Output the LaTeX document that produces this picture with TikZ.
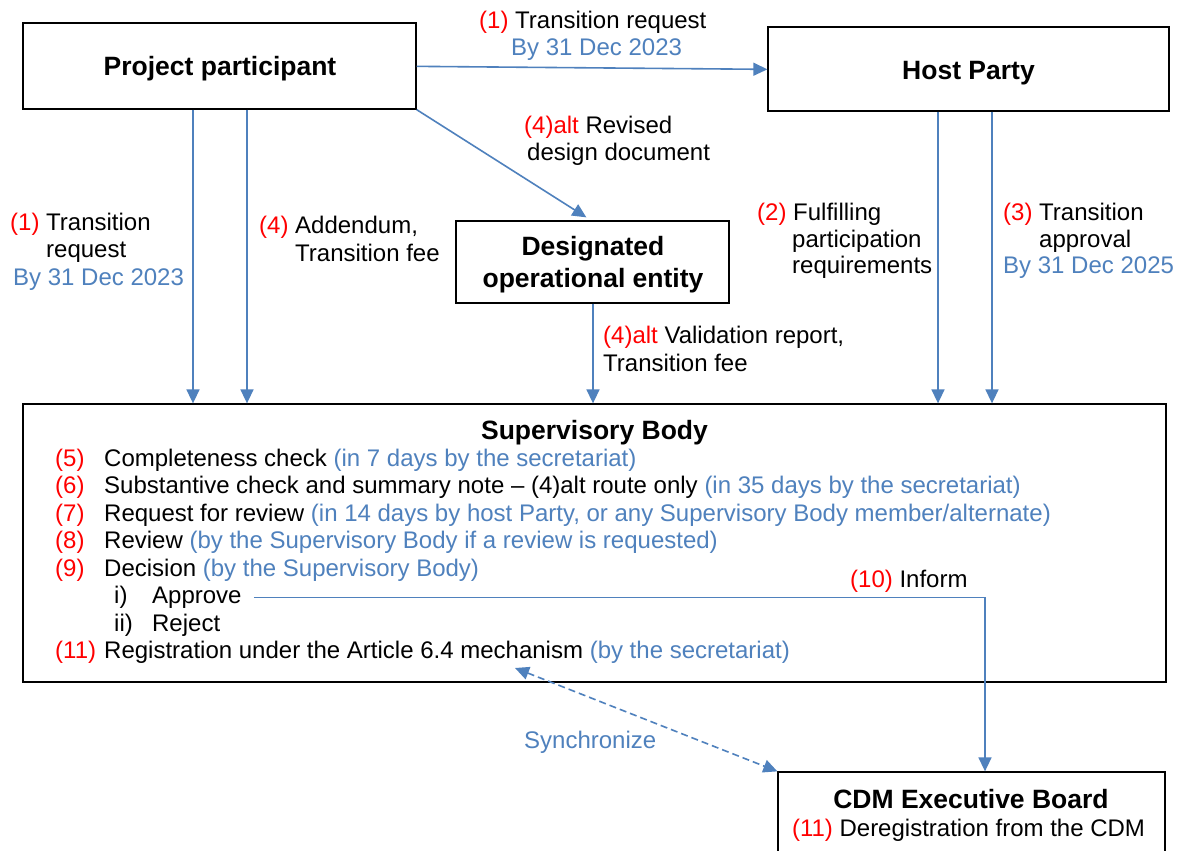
\documentclass[tikz,border=0pt]{standalone}
\usepackage{fontspec}
\setmainfont{Liberation Sans}
\usetikzlibrary{arrows.meta,calc}
\definecolor{myblue}{RGB}{79,129,189}
\definecolor{myred}{RGB}{255,0,0}
\newcommand{\rd}[1]{\textcolor{myred}{#1}}
\newcommand{\bl}[1]{\textcolor{myblue}{#1}}
\begin{document}
\begin{tikzpicture}[x=1pt,y=-1pt,
  box/.style={draw=black, line width=1.3pt, inner sep=0pt},
  arr/.style={draw=myblue, line width=1.6pt, -{Triangle[length=14pt,width=13pt]}},
  dbl/.style={draw=myblue, line width=1.6pt, dash pattern=on 7pt off 4pt, {Triangle[length=14pt,width=13pt]}-{Triangle[length=14pt,width=13pt]}},
  lbl/.style={inner sep=0pt, anchor=base west, font=\fontsize{24}{27.5}\selectfont},
  ttl/.style={inner sep=0pt, anchor=base, font=\fontsize{26.5}{32}\selectfont\bfseries},
]
\fill[white] (0,0) rectangle (1178,851);
\useasboundingbox (0,0) rectangle (1178,851);

% boxes
\node[box, minimum width=393pt, minimum height=86pt] (pp) at (219.5,66) {};
\node[box, minimum width=401pt, minimum height=84pt] (hp) at (968.5,69) {};
\node[box, minimum width=273pt, minimum height=82pt] (doe) at (592.5,262) {};
\node[box, minimum width=1143pt, minimum height=278pt] (sb) at (594.5,543) {};
\node[box, minimum width=387pt, minimum height=90pt] (cdm) at (971.5,817) {};

% titles
\node[ttl] (ppt) at (220,76) {Project participant};
\node[ttl] (hpt) at (968.5,79) {Host Party};
\node[ttl] (doet1) at (593,255) {Designated};
\node[ttl] (doet2) at (593,287) {operational entity};
\node[ttl] (sbt) at (594.5,439) {Supervisory Body};
\node[ttl] (cdmt) at (971,808) {CDM Executive Board};
\node[lbl, anchor=base] (cdm11) at (968.5,836) {\rd{(11)} Deregistration from the CDM};

% Supervisory body list
\node[lbl] (sb5) at (55,466) {\makebox[49pt][l]{\rd{(5)}}Completeness check \bl{(in 7 days by the secretariat)}};
\node[lbl] (sb6) at (55,493.5) {\makebox[49pt][l]{\rd{(6)}}Substantive check and summary note – (4)alt route only \bl{(in 35 days by the secretariat)}};
\node[lbl] (sb7) at (55,521) {\makebox[49pt][l]{\rd{(7)}}Request for review \bl{(in 14 days by host Party, or any Supervisory Body member/alternate)}};
\node[lbl] (sb8) at (55,548.5) {\makebox[49pt][l]{\rd{(8)}}Review \bl{(by the Supervisory Body if a review is requested)}};
\node[lbl] (sb9) at (55,576) {\makebox[49pt][l]{\rd{(9)}}Decision \bl{(by the Supervisory Body)}};
\node[lbl] (approve) at (114,603.5) {\makebox[38pt][l]{i)}Approve};
\node[lbl] (reject) at (114,631) {\makebox[38pt][l]{ii)}Reject};
\node[lbl] (sb11) at (55,658.5) {\makebox[49pt][l]{\rd{(11)}}Registration under the Article 6.4 mechanism \bl{(by the secretariat)}};

% coordinates
\coordinate (xa) at (193,0);
\coordinate (xb) at (247,0);
\coordinate (xc) at (938,0);
\coordinate (xd) at (992,0);
\coordinate (xe) at (593,0);
\coordinate (xf) at (985,0);
\coordinate (syncA) at (515,668);

% connectors
\draw[arr] ($(pp.north east)+(0,44)$) -- ($(hp.north west)+(0,43)$);
\draw[arr] (pp.south east) -- ($(doe.north west)+(131,-3)$);
\draw[arr] (pp.south -| xa) -- (sb.north -| xa);
\draw[arr] (pp.south -| xb) -- (sb.north -| xb);
\draw[arr] (hp.south -| xc) -- (sb.north -| xc);
\draw[arr] (hp.south -| xd) -- (sb.north -| xd);
\draw[arr] (doe.south -| xe) -- (sb.north -| xe);
\draw[arr] ($(approve.east)+(12,0)$) -| (cdm.north -| xf);
\draw[dbl] (syncA) -- (cdm.north west);

% labels
\node[lbl] (l1a) at (479,29) {\rd{(1)} Transition request};
\node[lbl] (l1b) at (511,56) {\bl{By 31 Dec 2023}};
\node[lbl] (l4a) at (524,133) {\rd{(4)alt} Revised};
\node[lbl] (l4b) at (527,160) {design document};
\node[lbl] (m1a) at (10,230) {\rd{(1)} Transition};
\node[lbl] (m1b) at (46,257.5) {request};
\node[lbl] (m1c) at (13,285) {\bl{By 31 Dec 2023}};
\node[lbl] (m4a) at (259,233) {\rd{(4)} Addendum,};
\node[lbl] (m4b) at (295,261) {Transition fee};
\node[lbl] (m2a) at (757,220) {\rd{(2)} Fulfilling};
\node[lbl] (m2b) at (792,247) {participation};
\node[lbl] (m2c) at (792,273) {requirements};
\node[lbl] (m3a) at (1003,220) {\rd{(3)} Transition};
\node[lbl] (m3b) at (1039,247) {approval};
\node[lbl] (m3c) at (1003,273) {\bl{By 31 Dec 2025}};
\node[lbl] (v4a) at (603,343) {\rd{(4)alt} Validation report,};
\node[lbl] (v4b) at (603,371) {Transition fee};
\node[lbl] (inf) at (850,587) {\rd{(10)} Inform};
\node[lbl] (sync) at (524,748) {\bl{Synchronize}};
\end{tikzpicture}
\end{document}
